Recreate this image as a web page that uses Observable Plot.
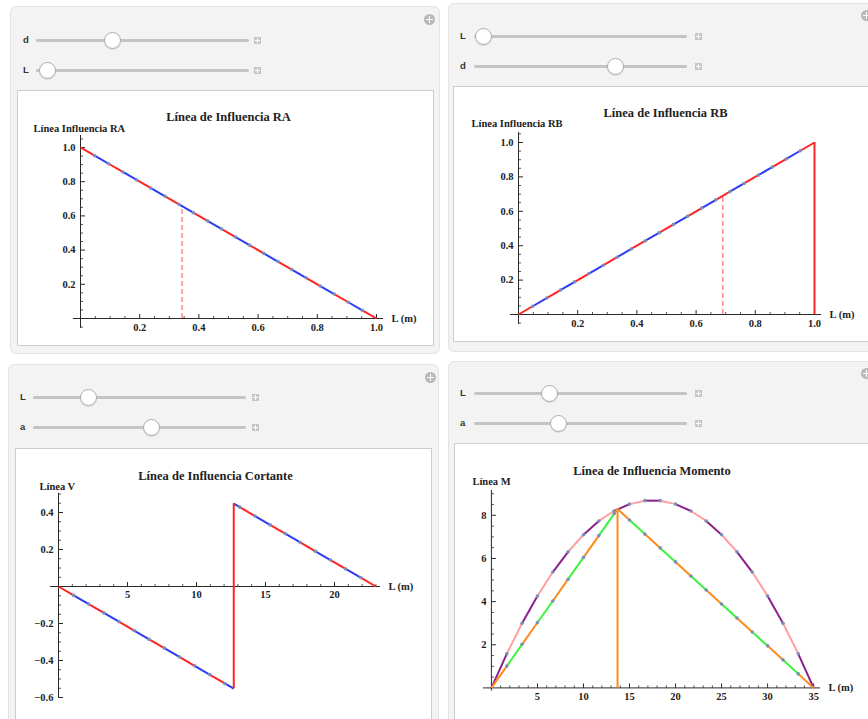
<!DOCTYPE html>
<html><head><meta charset="utf-8">
<script src="https://cdn.jsdelivr.net/npm/d3@7"></script>
<script src="https://cdn.jsdelivr.net/npm/@observablehq/plot@0.6"></script>
<style>
html,body{margin:0;padding:0;background:#fff;}
body{width:868px;height:719px;overflow:hidden;position:relative;font-family:"Liberation Sans",Arial,sans-serif;}
.panel{position:absolute;background:#f3f3f3;border:1px solid #e3e3e3;border-radius:6px;box-sizing:border-box;}
.box{position:absolute;background:#fff;border:1px solid #cdcdcd;box-sizing:border-box;}
.plotwrap{position:absolute;}
.plotwrap svg{display:block;}
.track{position:absolute;height:3px;background:#c4c4c4;border-radius:2px;}
.knob{position:absolute;width:17px;height:17px;border-radius:50%;background:radial-gradient(circle at 50% 35%,#ffffff 60%,#f0f0f0 100%);border:1px solid #adadad;box-sizing:border-box;box-shadow:0 1px 1px rgba(0,0,0,0.10);}
.plus{position:absolute;width:7px;height:7px;background:#c6c6c6;}
.plus::before,.plus::after{content:"";position:absolute;background:#fff;}
.plus::before{left:3px;top:1px;width:1px;height:5px;}
.plus::after{left:1px;top:3px;width:5px;height:1px;}
.lbl{position:absolute;font-size:9.5px;font-weight:bold;color:#333;line-height:10px;}
.icon{position:absolute;width:11px;height:11px;border-radius:50%;background:#b9b9b9;}
.icon::before,.icon::after{content:"";position:absolute;background:#fff;}
.icon::before{left:5px;top:2px;width:1.5px;height:7px;}
.icon::after{left:2px;top:5px;width:7px;height:1.5px;}
</style>
</head><body>
<script>
// ---------------- DATA ----------------
// Panel 1: influence line RA (mesh points along the line)
const raX = [0, 0.048, 0.095, 0.143, 0.190, 0.238, 0.286, 0.333, 0.381, 0.429, 0.476, 0.524, 0.571, 0.619, 0.667, 0.714, 0.762, 0.810, 0.857, 0.905, 0.952, 1.0];
const raY = [1.0, 0.952, 0.905, 0.857, 0.810, 0.762, 0.714, 0.667, 0.619, 0.571, 0.524, 0.476, 0.429, 0.381, 0.333, 0.286, 0.238, 0.190, 0.143, 0.095, 0.048, 0];
const raDash = {x: 0.343, y: 0.657};

// Panel 2: influence line RB
const rbX = [0, 0.048, 0.095, 0.143, 0.190, 0.238, 0.286, 0.333, 0.381, 0.429, 0.476, 0.524, 0.571, 0.619, 0.667, 0.714, 0.762, 0.810, 0.857, 0.905, 0.952, 1.0];
const rbY = [0, 0.048, 0.095, 0.143, 0.190, 0.238, 0.286, 0.333, 0.381, 0.429, 0.476, 0.524, 0.571, 0.619, 0.667, 0.714, 0.762, 0.810, 0.857, 0.905, 0.952, 1.0];
const rbDash = {x: 0.69, y: 0.69};
const rbEnd = {x: 1.0, y1: 0, y2: 1.0};

// Panel 3: shear influence line
const vX = [0, 1.10, 2.19, 3.29, 4.38, 5.48, 6.57, 7.67, 8.76, 9.86, 10.95, 12.05, 13.14, 14.24, 15.33, 16.43, 17.52, 18.62, 19.71, 20.81, 21.90, 23.0];
const vY = [0, -0.048, -0.095, -0.143, -0.190, -0.238, -0.286, -0.333, -0.381, -0.429, -0.476, -0.524, 0.429, 0.381, 0.333, 0.286, 0.238, 0.190, 0.143, 0.095, 0.048, 0];
const vJump = {x: 12.7, low: -0.552, high: 0.448};

// Panel 4: moment influence line + envelope parabola
const mX = [0, 1.67, 3.33, 5, 6.67, 8.33, 10, 11.67, 13.33, 15, 16.67, 18.33, 20, 21.67, 23.33, 25, 26.67, 28.33, 30, 31.67, 33.33, 35];
const mEnvY = [0, 1.58, 3.00, 4.26, 5.37, 6.31, 7.10, 7.74, 8.20, 8.52, 8.68, 8.68, 8.52, 8.20, 7.74, 7.10, 6.31, 5.37, 4.26, 3.00, 1.58, 0];
const mTriY = [0, 1.01, 2.02, 3.03, 4.03, 5.04, 6.05, 7.06, 8.07, 7.78, 7.13, 6.49, 5.84, 5.19, 4.54, 3.89, 3.24, 2.59, 1.95, 1.30, 0.65, 0];
const mPeak = {x: 13.7, y: 8.29};

// Tick values and labels
const t1xMajor = [0.2, 0.4, 0.6, 0.8, 1.0], t1xLabels = ["0.2", "0.4", "0.6", "0.8", "1.0"];
const t1yMajor = [0.2, 0.4, 0.6, 0.8, 1.0], t1yLabels = ["0.2", "0.4", "0.6", "0.8", "1.0"];
const t3xMajor = [5, 10, 15, 20], t3xLabels = ["5", "10", "15", "20"];
const t3yMajor = [-0.6, -0.4, -0.2, 0.2, 0.4], t3yLabels = ["\u22120.6", "\u22120.4", "\u22120.2", "0.2", "0.4"];
const t4xMajor = [5, 10, 15, 20, 25, 30, 35], t4xLabels = ["5", "10", "15", "20", "25", "30", "35"];
const t4yMajor = [2, 4, 6, 8], t4yLabels = ["2", "4", "6", "8"];

const titles = ["L\u00ednea de Influencia RA", "L\u00ednea de Influencia RB", "L\u00ednea de Influencia Cortante", "L\u00ednea de Influencia Momento"];
const yTitles = ["L\u00ednea Influencia RA", "L\u00ednea Influencia RB", "L\u00ednea V", "L\u00ednea M"];
const xTitle = "L (m)";

// ---------------- helpers ----------------
const C = {red: "#ff2424", blue: "#2b3cf2", pinkDash: "#ff8c8c", purple: "#8c1f8c", pink: "#ff9f9f", orange: "#ff8a1c", green: "#3cf23c", dot: "#7890bb", axis: "#2a2a2a"};

function el(cls, css, text) {
  const d = document.createElement("div");
  d.className = cls;
  Object.assign(d.style, css);
  if (text) d.textContent = text;
  document.body.appendChild(d);
  return d;
}
const px = v => v + "px";
function panel(l, t, w, h) { el("panel", {left: px(l), top: px(t), width: px(w), height: px(h)}); }
function box(l, t, w, h) { el("box", {left: px(l), top: px(t), width: px(w), height: px(h)}); }
function slider(lbl, lx, y, t1, t2, kx, pxx) {
  el("lbl", {left: px(lx), top: px(y - 5)}, lbl);
  el("track", {left: px(t1), top: px(y - 1.5), width: px(t2 - t1)});
  el("knob", {left: px(kx - 8.5), top: px(y - 8.5)});
  el("plus", {left: px(pxx - 3.5), top: px(y - 3.5)});
}
function icon(x, y) { el("icon", {left: px(x - 5.5), top: px(y - 5.5)}); }

// Builds coloured mesh segments; corners sharing the same x create a jump (line break).
function segments(mx, my, corners = []) {
  const rows = [];
  for (let k = 0; k < mx.length - 1; k++) {
    let part = 0;
    rows.push({x: mx[k], y: my[k], seg: k, z: k + "-" + part});
    const cs = corners.filter(c => c[0] > mx[k] && c[0] < mx[k + 1]);
    cs.forEach((c, j) => {
      if (j > 0 && cs[j - 1][0] === c[0]) part++;
      rows.push({x: c[0], y: c[1], seg: k, z: k + "-" + part});
    });
    rows.push({x: mx[k + 1], y: my[k + 1], seg: k, z: k + "-" + part});
  }
  return rows;
}
function meshDots(mx, my) { return mx.slice(1, -1).map((x, i) => ({x, y: my[i + 1]})); }

const tickUp = {draw(ctx, size) { const l = Math.sqrt(size / Math.PI); ctx.moveTo(0, 0); ctx.lineTo(0, -l); }};
const tickRight = {draw(ctx, size) { const l = Math.sqrt(size / Math.PI); ctx.moveTo(0, 0); ctx.lineTo(l, 0); }};
const FONT = "'Liberation Serif','Times New Roman',serif";

function seriesMarks(rows, c1, c2) {
  return [
    Plot.line(rows.filter(r => r.seg % 2 === 0), {x: "x", y: "y", z: "z", stroke: c1, strokeWidth: 2, strokeLinecap: "butt"}),
    Plot.line(rows.filter(r => r.seg % 2 === 1), {x: "x", y: "y", z: "z", stroke: c2, strokeWidth: 2, strokeLinecap: "butt"})
  ];
}

function chart(cfg) {
  const marks = [
    Plot.ruleY([0], {x1: cfg.xExt[0], x2: cfg.xExt[1], stroke: C.axis, strokeWidth: 1}),
    Plot.ruleX([0], {y1: cfg.yExt[0], y2: cfg.yExt[1], stroke: C.axis, strokeWidth: 1}),
    Plot.dot(cfg.xMinor, {x: d => d, y: 0, symbol: tickUp, r: 2.5, stroke: C.axis, fill: "none", strokeWidth: 0.8}),
    Plot.dot(cfg.xMajor, {x: d => d, y: 0, symbol: tickUp, r: 4.5, stroke: C.axis, fill: "none", strokeWidth: 1}),
    Plot.dot(cfg.yMinor, {x: 0, y: d => d, symbol: tickRight, r: 2.5, stroke: C.axis, fill: "none", strokeWidth: 0.8}),
    Plot.dot(cfg.yMajor, {x: 0, y: d => d, symbol: tickRight, r: 4.5, stroke: C.axis, fill: "none", strokeWidth: 1}),
    Plot.text(cfg.xMajor, {x: d => d, y: 0, text: (d, i) => cfg.xLabels[i], dy: cfg.xLabelDy, fontWeight: "bold", fontSize: 10.5, fill: "#222"}),
    Plot.text(cfg.yMajor, {x: 0, y: d => d, text: (d, i) => cfg.yLabels[i], dx: -5, textAnchor: "end", fontWeight: "bold", fontSize: 10.5, fill: "#222"}),
    Plot.text([xTitle], {x: cfg.xExt[1], y: 0, text: d => d, dx: 8, textAnchor: "start", fontWeight: "bold", fontSize: 10.5, fill: "#222"}),
    Plot.text([cfg.title], {frameAnchor: "top-left", text: d => d, dx: cfg.titlePos[0], dy: cfg.titlePos[1], textAnchor: "middle", fontWeight: "bold", fontSize: 12.5, fill: "#222"}),
    Plot.text([cfg.ytitle], {frameAnchor: "top-left", text: d => d, dx: cfg.ytitlePos[0], dy: cfg.ytitlePos[1], textAnchor: "start", fontWeight: "bold", fontSize: 10.5, fill: "#222"}),
    ...cfg.marks
  ];
  return Plot.plot({
    width: cfg.width, height: cfg.height, margin: 0,
    x: {domain: cfg.xDomain, range: cfg.xRange, axis: null},
    y: {domain: cfg.yDomain, range: cfg.yRange, axis: null},
    style: {background: "transparent", fontFamily: FONT, fontSize: "10px", overflow: "visible"},
    marks
  });
}
function place(node, l, t) {
  const w = document.createElement("div");
  w.className = "plotwrap";
  w.style.left = px(l); w.style.top = px(t);
  w.appendChild(node);
  document.body.appendChild(w);
}

const range = (a, b) => d3.range(a, b + 1);

// ---------------- panels & controls ----------------
panel(10, 6, 430, 348);
panel(448, 3, 440, 349);
panel(8, 364, 431, 400);
panel(448, 361, 440, 400);
box(17, 90, 417, 256);
box(453, 86, 430, 256);
box(15, 448, 417, 290);
box(454, 443, 430, 290);

slider("d", 23, 40, 36, 249, 112, 257);
slider("L", 23, 70, 36, 249, 47, 257);
icon(429, 19);
slider("L", 460, 36, 474, 687, 483, 698);
slider("d", 460, 66, 474, 687, 615, 698);
icon(866, 15);
slider("L", 20, 397, 33, 246, 88, 255);
slider("a", 20, 427, 33, 246, 151, 255);
icon(430, 377);
slider("L", 460, 393, 474, 687, 549, 698);
slider("a", 460, 423, 474, 687, 558, 698);
icon(866, 373);

// ---------------- charts ----------------
const minor01x = range(1, 20).filter(i => i % 4 !== 0).map(i => i * 0.05);
const minor01y = range(-1, 21).filter(i => i % 4 !== 0).map(i => i * 0.05);

// Chart 1
place(chart({
  width: 417, height: 256,
  xDomain: [0, 1], xRange: [63, 359], yDomain: [0, 1], yRange: [228, 57],
  xExt: [-0.024, 1.024], yExt: [-0.058, 1.07],
  xMajor: t1xMajor, xLabels: t1xLabels, yMajor: t1yMajor, yLabels: t1yLabels,
  xMinor: minor01x, yMinor: minor01y, xLabelDy: 9,
  title: titles[0], titlePos: [211, 22], ytitle: yTitles[0], ytitlePos: [16, 34],
  marks: [
    Plot.ruleX([raDash], {x: "x", y1: 0, y2: "y", stroke: C.pinkDash, strokeWidth: 1.5, strokeDasharray: "5,3"}),
    ...seriesMarks(segments(raX, raY), C.red, C.blue),
    Plot.dot(meshDots(raX, raY), {x: "x", y: "y", r: 1.8, fill: C.dot})
  ]
}), 17, 90);

// Chart 2
place(chart({
  width: 415, height: 256,
  xDomain: [0, 1], xRange: [65, 361], yDomain: [0, 1], yRange: [228, 56],
  xExt: [-0.027, 1.024], yExt: [-0.058, 1.058],
  xMajor: t1xMajor, xLabels: t1xLabels, yMajor: t1yMajor, yLabels: t1yLabels,
  xMinor: minor01x, yMinor: minor01y, xLabelDy: 9,
  title: titles[1], titlePos: [212, 22], ytitle: yTitles[1], ytitlePos: [18, 33],
  marks: [
    Plot.ruleX([rbDash], {x: "x", y1: 0, y2: "y", stroke: C.pinkDash, strokeWidth: 1.5, strokeDasharray: "5,3"}),
    ...seriesMarks(segments(rbX, rbY), C.red, C.blue),
    Plot.ruleX([rbEnd], {x: "x", y1: "y1", y2: "y2", stroke: C.red, strokeWidth: 2}),
    Plot.dot(meshDots(rbX, rbY), {x: "x", y: "y", r: 1.8, fill: C.dot})
  ]
}), 453, 86);

// Chart 3
place(chart({
  width: 417, height: 272,
  xDomain: [0, 20], xRange: [43, 319], yDomain: [-0.6, 0.4], yRange: [249, 64],
  xExt: [-0.58, 23.33], yExt: [-0.605, 0.503],
  xMajor: t3xMajor, xLabels: t3xLabels, yMajor: t3yMajor, yLabels: t3yLabels,
  xMinor: range(1, 23).filter(i => i % 5 !== 0),
  yMinor: range(-12, 10).filter(i => i % 4 !== 0).map(i => i * 0.05),
  xLabelDy: 8,
  title: titles[2], titlePos: [200, 23], ytitle: yTitles[2], ytitlePos: [24, 34],
  marks: [
    ...seriesMarks(segments(vX, vY, [[vJump.x, vJump.low], [vJump.x, vJump.high]]), C.red, C.blue),
    Plot.ruleX([vJump], {x: "x", y1: "low", y2: "high", stroke: C.red, strokeWidth: 2}),
    Plot.dot(meshDots(vX, vY), {x: "x", y: "y", r: 1.8, fill: C.dot})
  ]
}), 15, 448);

// Chart 4
place(chart({
  width: 415, height: 276,
  xDomain: [0, 35], xRange: [37, 360], yDomain: [0, 8], yRange: [245, 72],
  xExt: [-0.87, 35.75], yExt: [-0.15, 9.16],
  xMajor: t4xMajor, xLabels: t4xLabels, yMajor: t4yMajor, yLabels: t4yLabels,
  xMinor: range(1, 35).filter(i => i % 5 !== 0),
  yMinor: range(1, 18).filter(i => i % 4 !== 0).map(i => i * 0.5),
  xLabelDy: 9,
  title: titles[3], titlePos: [198, 23], ytitle: yTitles[3], ytitlePos: [18, 34],
  marks: [
    ...seriesMarks(segments(mX, mEnvY), C.purple, C.pink),
    ...seriesMarks(segments(mX, mTriY, [[mPeak.x, mPeak.y]]), C.orange, C.green),
    Plot.ruleX([mPeak], {x: "x", y1: 0, y2: "y", stroke: C.orange, strokeWidth: 2}),
    Plot.dot(meshDots(mX, mEnvY), {x: "x", y: "y", r: 1.8, fill: C.dot}),
    Plot.dot(meshDots(mX, mTriY), {x: "x", y: "y", r: 1.8, fill: C.dot})
  ]
}), 454, 443);
</script>
</body></html>
